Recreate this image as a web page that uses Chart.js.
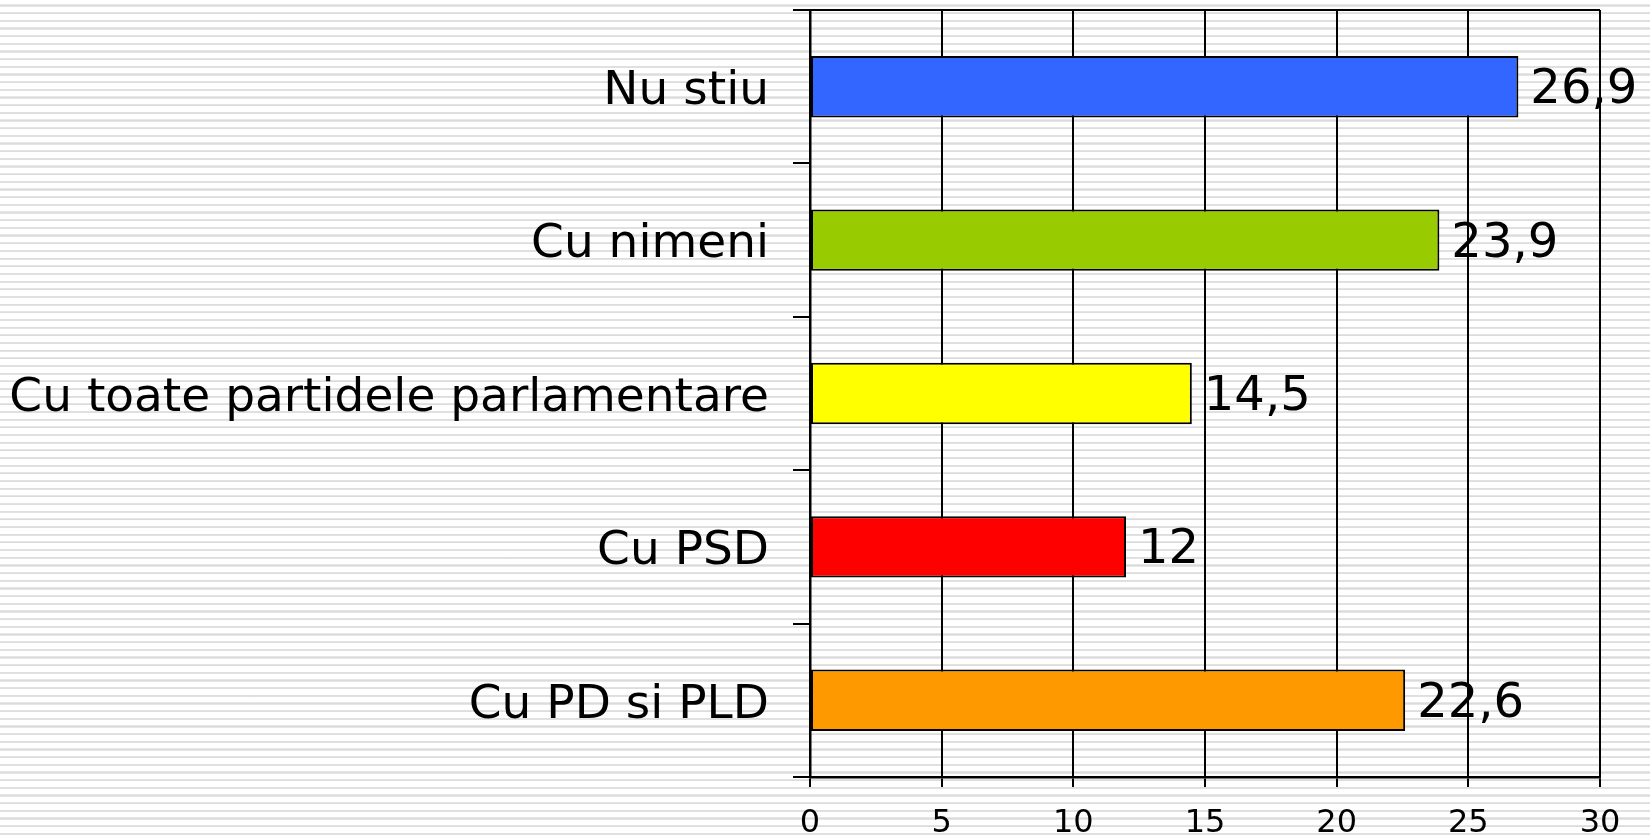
<!DOCTYPE html>
<html>
<head>
<meta charset="utf-8">
<script src="https://cdn.jsdelivr.net/npm/chart.js@4.4.1/dist/chart.umd.min.js"></script>
<style>
  html, body { margin: 0; padding: 0; }
  body {
    width: 1650px; height: 839px; overflow: hidden;
    background: repeating-linear-gradient(to bottom,
      #ffffff 0px, #ffffff 4.4px,
      #e8e8e8 4.4px, #dadada 5.6px, #e6e6e6 6.6px,
      #ffffff 6.6px, #ffffff 7.67px);
  }
  #wrap { position: relative; width: 1650px; height: 839px; }
</style>
</head>
<body>
<div id="wrap"><canvas id="c" width="1650" height="839"></canvas></div>
<script>
const categories = ["Nu stiu", "Cu nimeni", "Cu toate partidele parlamentare", "Cu PSD", "Cu PD si PLD"];
const values = [26.9, 23.9, 14.5, 12, 22.6];
const barColors = ["#3366FF", "#99CC00", "#FFFF00", "#FF0000", "#FF9900"];
const xTicks = [0, 5, 10, 15, 20, 25, 30];

const FONT = "'DejaVu Sans', Verdana, sans-serif";

const valueLabels = {
  id: 'valueLabels',
  afterDatasetsDraw(chart) {
    const ctx = chart.ctx;
    const meta = chart.getDatasetMeta(0);
    ctx.save();
    ctx.font = "48px " + FONT;
    ctx.fillStyle = "#000";
    ctx.textAlign = "left";
    ctx.textBaseline = "middle";
    meta.data.forEach((bar, i) => {
      const txt = String(values[i]).replace('.', ',');
      ctx.fillText(txt, bar.x + 12, bar.y + 4);
    });
    ctx.restore();
  }
};

const topBorder = {
  id: 'topBorder',
  afterDraw(chart) {
    const ctx = chart.ctx;
    const a = chart.chartArea;
    ctx.save();
    ctx.strokeStyle = "#000";
    ctx.lineWidth = 2;
    ctx.beginPath();
    ctx.moveTo(a.left, a.top);
    ctx.lineTo(a.right, a.top);
    ctx.stroke();
    ctx.restore();
  }
};

new Chart(document.getElementById('c'), {
  type: 'bar',
  data: {
    labels: categories,
    datasets: [{
      data: values,
      backgroundColor: barColors,
      borderColor: "#000",
      borderWidth: 2,
      borderSkipped: false,
      barPercentage: 0.4,
      categoryPercentage: 1.0
    }]
  },
  options: {
    indexAxis: 'y',
    responsive: false,
    animation: false,
    devicePixelRatio: 1,
    layout: { padding: { top: 10, right: 50, left: 0, bottom: 0 } },
    plugins: { legend: { display: false }, tooltip: { enabled: false } },
    scales: {
      x: {
        type: 'linear',
        min: 0, max: 30,
        afterBuildTicks(scale) { scale.ticks = xTicks.map(v => ({ value: v })); },
        afterFit(scale) { scale.height = 62; scale.paddingLeft = 0; scale.paddingRight = 0; },
        ticks: { color: "#000", font: { family: FONT, size: 32 }, padding: 17 },
        grid: { color: "#000", lineWidth: 2, tickLength: 10, drawOnChartArea: true },
        border: { color: "#000", width: 2.5 }
      },
      y: {
        type: 'category',
        afterFit(scale) { scale.width = 810; scale.paddingTop = 0; scale.paddingBottom = 0; },
        ticks: { color: "#000", font: { family: FONT, size: 47 }, padding: 24, labelOffset: 5 },
        grid: { color: "#000", lineWidth: 2, tickLength: 17, drawOnChartArea: false, offset: true },
        border: { color: "#000", width: 2.5 }
      }
    }
  },
  plugins: [valueLabels, topBorder]
});
</script>
</body>
</html>
